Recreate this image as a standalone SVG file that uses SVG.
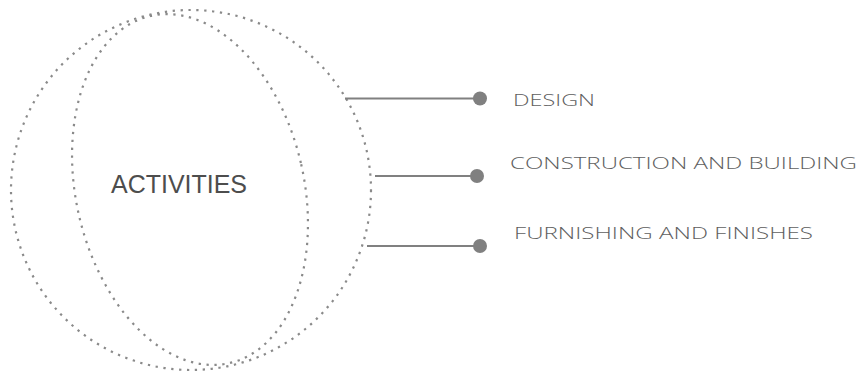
<svg xmlns="http://www.w3.org/2000/svg" width="862" height="372" viewBox="0 0 862 372">
<style>
.ring{fill:none;stroke:#8a8a8a;stroke-width:2.2;stroke-dasharray:2.3 5.6}
.conn{stroke:#808080;stroke-width:2.2;fill:none}
.dot{fill:#808080}
.lbl{font-family:"Open Sans","DejaVu Sans",sans-serif;font-size:17px;fill:#606060;font-weight:300}
.main{font-family:"Liberation Sans",Arial,sans-serif;font-size:25px;fill:#4d4d4d}
</style>
<rect width="862" height="372" fill="#fff"/>
<g id="activities">
<circle class="ring" cx="191" cy="190" r="180"/>
<ellipse class="ring" cx="190" cy="189.5" rx="114" ry="178" transform="rotate(-12.8 190 189.5)"/>
<text class="main" x="111" y="193" textLength="136" lengthAdjust="spacingAndGlyphs">ACTIVITIES</text>
</g>
<g id="connectors">
<line class="conn" x1="345" y1="98.5" x2="480" y2="98.5"/>
<circle class="dot" cx="480" cy="98.5" r="7"/>
<line class="conn" x1="375" y1="176" x2="477" y2="176"/>
<circle class="dot" cx="477" cy="176" r="7"/>
<line class="conn" x1="367" y1="246" x2="480" y2="246"/>
<circle class="dot" cx="480" cy="246" r="7"/>
</g>
<g id="design"><text class="lbl" x="513" y="106" textLength="82" lengthAdjust="spacingAndGlyphs">DESIGN</text></g>
<g id="construction"><text class="lbl" x="510" y="169" textLength="347" lengthAdjust="spacingAndGlyphs">CONSTRUCTION AND BUILDING</text></g>
<g id="furnishing"><text class="lbl" x="514" y="239" textLength="299" lengthAdjust="spacingAndGlyphs">FURNISHING AND FINISHES</text></g>
</svg>
